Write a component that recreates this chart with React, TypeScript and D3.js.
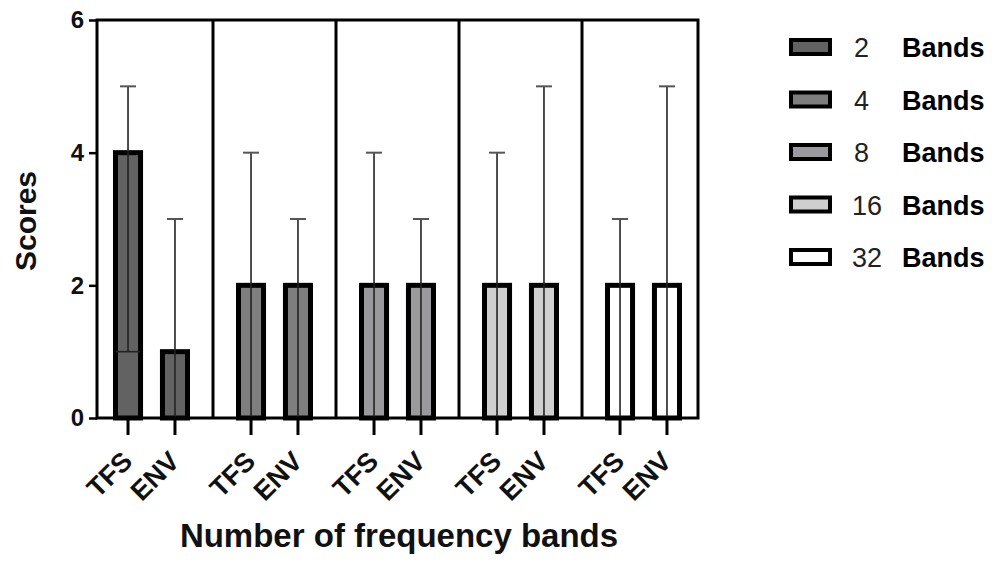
import React, { useEffect, useRef } from 'react';
import * as d3 from 'd3';

const groups = ['2 Bands', '4 Bands', '8 Bands', '16 Bands', '32 Bands'];
const legendNumbers = ['2', '4', '8', '16', '32'];
const conditions = ['TFS', 'ENV'];
const tfsScores = [4, 2, 2, 2, 2];
const envScores = [1, 2, 2, 2, 2];
const tfsLow = [1, 0, 0, 0, 0];
const tfsHigh = [5, 4, 4, 4, 3];
const envLow = [0, 0, 0, 0, 0];
const envHigh = [3, 3, 3, 5, 5];
const yTicks = [0, 2, 4, 6];
const fills = ['#626262', '#7e7e7e', '#9a9a9e', '#cfcfcf', '#ffffff'];

interface Bar {
  group: string;
  cond: string;
  value: number;
  low: number;
  high: number;
  fill: string;
}

const App: React.FC = () => {
  const svgRef = useRef<SVGSVGElement>(null);
  const width = 999;
  const height = 563;

  useEffect(() => {
    if (!svgRef.current) return;
    const svg = d3.select(svgRef.current);
    svg.selectAll('*').remove();

    const font = 'Liberation Sans, Arial, sans-serif';
    const left = 97, right = 698, top = 20, bottom = 418;

    const bars: Bar[] = [];
    groups.forEach((g, i) => {
      bars.push({ group: g, cond: 'TFS', value: tfsScores[i], low: tfsLow[i], high: tfsHigh[i], fill: fills[i] });
      bars.push({ group: g, cond: 'ENV', value: envScores[i], low: envLow[i], high: envHigh[i], fill: fills[i] });
    });

    const y = d3.scaleLinear().domain([0, 6]).range([bottom, top]);
    const x0 = d3.scaleBand().domain(groups).range([90, 705]);
    const x1 = d3.scaleBand()
      .domain(conditions)
      .range([0, x0.bandwidth()])
      .paddingInner(0.36)
      .paddingOuter(0.49);
    const cx = (d: Bar) => (x0(d.group) || 0) + (x1(d.cond) || 0) + x1.bandwidth() / 2;

    // Bars
    svg.append('g')
      .selectAll('rect')
      .data(bars)
      .enter()
      .append('rect')
      .attr('x', d => (x0(d.group) || 0) + (x1(d.cond) || 0) + 2.5)
      .attr('y', d => y(d.value))
      .attr('width', x1.bandwidth() - 5)
      .attr('height', d => y(0) - y(d.value))
      .attr('fill', d => d.fill)
      .attr('stroke', '#000')
      .attr('stroke-width', 5);

    // Error bars
    const err = svg.append('g');
    err.selectAll('line.v')
      .data(bars)
      .enter()
      .append('line')
      .attr('x1', cx).attr('x2', cx)
      .attr('y1', d => y(d.low)).attr('y2', d => y(d.high))
      .attr('stroke', '#222')
      .attr('stroke-width', 1.6);
    err.selectAll('line.cap')
      .data(bars)
      .enter()
      .append('line')
      .attr('x1', d => cx(d) - 8).attr('x2', d => cx(d) + 8)
      .attr('y1', d => y(d.high)).attr('y2', d => y(d.high))
      .attr('stroke', '#555')
      .attr('stroke-width', 2);
    err.selectAll('line.lowcap')
      .data(bars.filter(d => d.low > 0))
      .enter()
      .append('line')
      .attr('x1', d => cx(d) - 12).attr('x2', d => cx(d) + 12)
      .attr('y1', d => y(d.low)).attr('y2', d => y(d.low))
      .attr('stroke', '#222')
      .attr('stroke-width', 1.6);

    // Panel dividers
    svg.append('g')
      .selectAll('line')
      .data(groups.slice(1))
      .enter()
      .append('line')
      .attr('x1', d => x0(d) || 0).attr('x2', d => x0(d) || 0)
      .attr('y1', top).attr('y2', bottom)
      .attr('stroke', '#000')
      .attr('stroke-width', 3);

    // Frame
    svg.append('rect')
      .attr('x', left).attr('y', top)
      .attr('width', right - left).attr('height', bottom - top)
      .attr('fill', 'none')
      .attr('stroke', '#000')
      .attr('stroke-width', 3);

    // Y axis
    const yAxis = svg.append('g')
      .attr('transform', `translate(${left},0)`)
      .call(d3.axisLeft(y).tickValues(yTicks).tickFormat(d3.format('d')).tickSize(8).tickPadding(5));
    yAxis.select('.domain').remove();
    yAxis.selectAll('line').attr('stroke', '#000').attr('stroke-width', 2.5);
    yAxis.selectAll('text')
      .attr('font-family', font)
      .attr('font-size', 24)
      .attr('font-weight', 'bold')
      .attr('fill', '#111');

    // X ticks and labels
    const xt = svg.append('g');
    xt.selectAll('line')
      .data(bars)
      .enter()
      .append('line')
      .attr('x1', cx).attr('x2', cx)
      .attr('y1', bottom).attr('y2', bottom + 17)
      .attr('stroke', '#000')
      .attr('stroke-width', 3);
    xt.selectAll('text')
      .data(bars)
      .enter()
      .append('text')
      .attr('transform', d => `translate(${cx(d) + 6},${bottom + 45}) rotate(-45)`)
      .attr('text-anchor', 'end')
      .attr('font-family', font)
      .attr('font-size', 27)
      .attr('font-weight', 'bold')
      .attr('fill', '#111')
      .text(d => d.cond);

    // Axis titles
    svg.append('text')
      .attr('x', 399)
      .attr('y', 547)
      .attr('text-anchor', 'middle')
      .attr('font-family', font)
      .attr('font-size', 33)
      .attr('font-weight', 'bold')
      .attr('fill', '#111')
      .text('Number of frequency bands');

    svg.append('text')
      .attr('transform', 'rotate(-90)')
      .attr('x', -221)
      .attr('y', 36)
      .attr('text-anchor', 'middle')
      .attr('font-family', font)
      .attr('font-size', 30)
      .attr('font-weight', 'bold')
      .attr('fill', '#111')
      .text('Scores');

    // Legend
    const legend = svg.append('g');
    const rowY = d3.scalePoint().domain(groups).range([47, 257]);
    const rows = legend.selectAll('g')
      .data(groups)
      .enter()
      .append('g')
      .attr('transform', d => `translate(0,${rowY(d)})`);
    rows.append('rect')
      .attr('x', 791).attr('y', -7)
      .attr('width', 39).attr('height', 14)
      .attr('fill', (d, i) => fills[i])
      .attr('stroke', '#000')
      .attr('stroke-width', 4);
    rows.append('text')
      .attr('x', (d, i) => (legendNumbers[i].length > 1 ? 852 : 854))
      .attr('y', 10)
      .attr('font-family', font)
      .attr('font-size', 27)
      .attr('fill', '#222')
      .text((d, i) => legendNumbers[i]);
    rows.append('text')
      .attr('x', 902)
      .attr('y', 10)
      .attr('font-family', font)
      .attr('font-size', 27)
      .attr('font-weight', 'bold')
      .attr('fill', '#000')
      .text('Bands');
  }, []);

  return (
    <svg
      ref={svgRef}
      width={width}
      height={height}
      style={{ position: 'absolute', left: 0, top: 0, background: '#fff' }}
    />
  );
};

export default App;
